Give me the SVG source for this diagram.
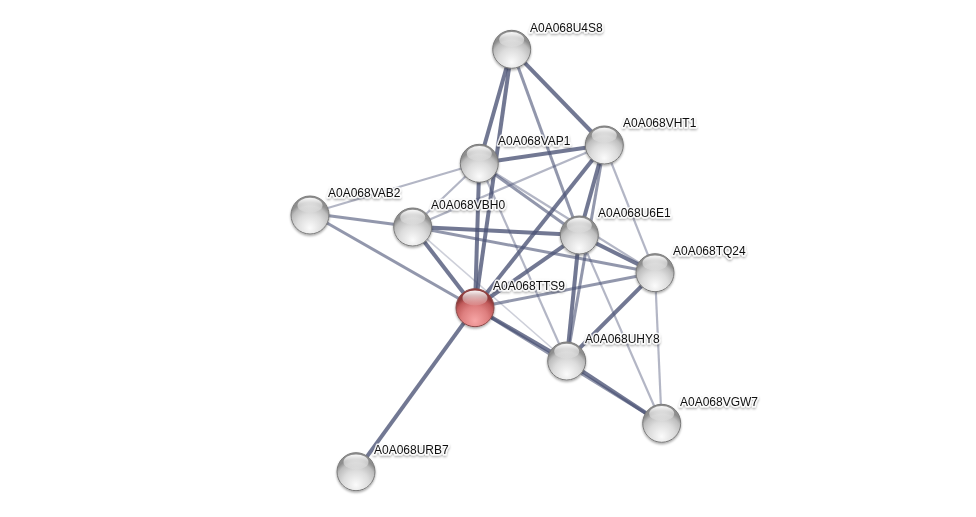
<svg xmlns="http://www.w3.org/2000/svg" width="976" height="517" viewBox="0 0 976 517">
<style>
.e{stroke:#4a5275;fill:none;stroke-linecap:butt}
.d{stroke-width:4;stroke-opacity:.78}
.m{stroke-width:3;stroke-opacity:.6}
.l{stroke-width:2.2;stroke-opacity:.42}
.t{stroke-width:1.6;stroke-opacity:.28}
.lbl{font-family:"Liberation Sans",Arial,sans-serif;font-size:12px;fill:#111;stroke:#fff;stroke-width:3;stroke-opacity:.85;paint-order:stroke;stroke-linejoin:round}
.b{fill:url(#g);stroke:#7b7b7b;stroke-width:1}
.r{fill:url(#rg);stroke:#8a4a4a;stroke-width:1}
.h{fill:url(#hl)}
</style>
<defs>
<radialGradient id="g" cx="50%" cy="78%" r="62%" fx="50%" fy="85%">
<stop offset="0" stop-color="#fbfbfb"/>
<stop offset=".55" stop-color="#dcdcdc"/>
<stop offset=".85" stop-color="#bdbdbd"/>
<stop offset="1" stop-color="#8e8e8e"/>
</radialGradient>
<radialGradient id="rg" cx="50%" cy="78%" r="62%" fx="50%" fy="85%">
<stop offset="0" stop-color="#f7a6a6"/>
<stop offset=".55" stop-color="#de7f7f"/>
<stop offset=".85" stop-color="#c05a5a"/>
<stop offset="1" stop-color="#8f3a3a"/>
</radialGradient>
<linearGradient id="hl" x1="0" y1="0" x2="0" y2="1">
<stop offset="0" stop-color="#fff" stop-opacity=".95"/>
<stop offset="1" stop-color="#fff" stop-opacity=".1"/>
</linearGradient>
<filter id="sh" x="-30%" y="-30%" width="160%" height="170%">
<feDropShadow dx="0" dy="1.5" stdDeviation="1.3" flood-color="#000" flood-opacity=".35"/>
</filter>
</defs>
<rect width="976" height="517" fill="#fff"/>
<g id="edges">
<line class="e d" x1="511.7" y1="49.3" x2="479.3" y2="163.3"/>
<line class="e d" x1="511.7" y1="49.3" x2="475" y2="307.7"/>
<line class="e d" x1="511.7" y1="49.3" x2="604.3" y2="145"/>
<line class="e m" x1="511.7" y1="49.3" x2="579.3" y2="235"/>
<line class="e d" x1="479.3" y1="163.3" x2="604.3" y2="145"/>
<line class="e l" x1="479.3" y1="163.3" x2="310" y2="213.3"/>
<line class="e l" x1="479.3" y1="163.3" x2="412.7" y2="226.7"/>
<line class="e d" x1="479.3" y1="163.3" x2="475" y2="307.7"/>
<line class="e m" x1="479.3" y1="163.3" x2="579.3" y2="235"/>
<line class="e l" x1="479.3" y1="163.3" x2="655" y2="272.7"/>
<line class="e l" x1="479.3" y1="163.3" x2="566.7" y2="361"/>
<line class="e l" x1="604.3" y1="145" x2="412.7" y2="226.7"/>
<line class="e d" x1="604.3" y1="145" x2="475" y2="307.7"/>
<line class="e d" x1="604.3" y1="145" x2="579.3" y2="235"/>
<line class="e m" x1="604.3" y1="145" x2="566.7" y2="361"/>
<line class="e l" x1="604.3" y1="145" x2="655" y2="272.7"/>
<line class="e m" x1="310" y1="213.3" x2="412.7" y2="226.7"/>
<line class="e m" x1="310" y1="213.3" x2="475" y2="307.7"/>
<line class="e d" x1="412.7" y1="226.7" x2="579.3" y2="235"/>
<line class="e m" x1="412.7" y1="226.7" x2="655" y2="272.7"/>
<line class="e d" x1="412.7" y1="226.7" x2="475" y2="307.7"/>
<line class="e t" x1="412.7" y1="226.7" x2="566.7" y2="361"/>
<line class="e d" x1="579.3" y1="235" x2="655" y2="272.7"/>
<line class="e d" x1="579.3" y1="235" x2="475" y2="307.7"/>
<line class="e d" x1="579.3" y1="235" x2="566.7" y2="361"/>
<line class="e l" x1="579.3" y1="235" x2="661.7" y2="423.3"/>
<line class="e m" x1="655" y1="272.7" x2="475" y2="307.7"/>
<line class="e d" x1="655" y1="272.7" x2="566.7" y2="361"/>
<line class="e l" x1="655" y1="272.7" x2="661.7" y2="423.3"/>
<line class="e d" x1="475" y1="307.7" x2="566.7" y2="361"/>
<line class="e m" x1="475" y1="307.7" x2="661.7" y2="423.3"/>
<line class="e d" x1="475" y1="307.7" x2="356" y2="471.7"/>
<line class="e d" x1="566.7" y1="361" x2="661.7" y2="423.3"/>
</g>
<g id="n-U4S8" filter="url(#sh)"><circle class="b" cx="511.7" cy="49.3" r="19"/><ellipse class="h" cx="511.7" cy="39.5" rx="12.5" ry="7.5"/><text class="lbl" x="530" y="32">A0A068U4S8</text></g>
<g id="n-VHT1" filter="url(#sh)"><circle class="b" cx="604.3" cy="145" r="19"/><ellipse class="h" cx="604.3" cy="135.2" rx="12.5" ry="7.5"/><text class="lbl" x="623" y="127">A0A068VHT1</text></g>
<g id="n-VAP1" filter="url(#sh)"><circle class="b" cx="479.3" cy="163.3" r="19"/><ellipse class="h" cx="479.3" cy="153.5" rx="12.5" ry="7.5"/><text class="lbl" x="498" y="145">A0A068VAP1</text></g>
<g id="n-VAB2" filter="url(#sh)"><circle class="b" cx="310" cy="215" r="19"/><ellipse class="h" cx="310" cy="205.2" rx="12.5" ry="7.5"/><text class="lbl" x="328" y="197">A0A068VAB2</text></g>
<g id="n-VBH0" filter="url(#sh)"><circle class="b" cx="412.7" cy="227" r="19"/><ellipse class="h" cx="412.7" cy="217.2" rx="12.5" ry="7.5"/><text class="lbl" x="431" y="209">A0A068VBH0</text></g>
<g id="n-U6E1" filter="url(#sh)"><circle class="b" cx="579.3" cy="235" r="19"/><ellipse class="h" cx="579.3" cy="225.2" rx="12.5" ry="7.5"/><text class="lbl" x="598" y="217">A0A068U6E1</text></g>
<g id="n-TQ24" filter="url(#sh)"><circle class="b" cx="655" cy="272.7" r="19"/><ellipse class="h" cx="655" cy="262.9" rx="12.5" ry="7.5"/><text class="lbl" x="673" y="255">A0A068TQ24</text></g>
<g id="n-TTS9" filter="url(#sh)"><circle class="r" cx="475" cy="307.7" r="19"/><ellipse class="h" cx="475" cy="297.9" rx="12.5" ry="7.5"/><text class="lbl" x="493" y="290">A0A068TTS9</text></g>
<g id="n-UHY8" filter="url(#sh)"><circle class="b" cx="566.7" cy="361" r="19"/><ellipse class="h" cx="566.7" cy="351.2" rx="12.5" ry="7.5"/><text class="lbl" x="585" y="343">A0A068UHY8</text></g>
<g id="n-VGW7" filter="url(#sh)"><circle class="b" cx="661.7" cy="423.3" r="19"/><ellipse class="h" cx="661.7" cy="413.5" rx="12.5" ry="7.5"/><text class="lbl" x="680" y="406">A0A068VGW7</text></g>
<g id="n-URB7" filter="url(#sh)"><circle class="b" cx="356" cy="471.7" r="19"/><ellipse class="h" cx="356" cy="461.9" rx="12.5" ry="7.5"/><text class="lbl" x="374" y="454">A0A068URB7</text></g>
</svg>
